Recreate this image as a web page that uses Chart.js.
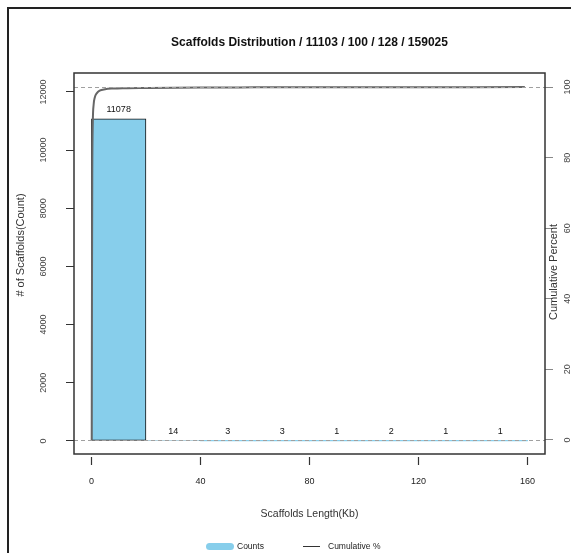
<!DOCTYPE html>
<html><head><meta charset="utf-8">
<script src="https://cdn.jsdelivr.net/npm/chart.js@4"></script>
<style>html,body{margin:0;padding:0;background:#fff;overflow:hidden}</style>
</head><body>
<canvas id="c" width="571" height="553"></canvas>
<script>
// ---- data ----
const titleText = "Scaffolds Distribution / 11103 / 100 / 128 / 159025";
const binBreaks = [0, 20, 40, 60, 80, 100, 120, 140, 160];
const binCounts = [11078, 14, 3, 3, 1, 2, 1, 1];
const cumLengthKb = [0.1, 0.2, 0.3, 0.5, 0.8, 1.2, 2, 3, 5, 8, 12, 20, 40, 60, 80, 100, 108, 120, 140, 159];
const cumPercent  = [0, 45, 75, 90, 95, 97, 98.3, 99, 99.4, 99.6, 99.7, 99.77, 99.9, 99.93, 99.95, 99.96, 99.97, 99.98, 99.99, 100];
const xTickValues = [0, 40, 80, 120, 160];
const yTickValues = [0, 2000, 4000, 6000, 8000, 10000, 12000];
const y1TickValues = [0, 20, 40, 60, 80, 100];
const refPercents = [0, 100];
const xTitle = "Scaffolds Length(Kb)";
const yTitle = "# of Scaffolds(Count)";
const y1Title = "Cumulative Percent";
const seriesNames = ["Counts", "Cumulative %"];

// ---- derived tables ----
const barData = binCounts.map((v, i) => ({x: (binBreaks[i] + binBreaks[i + 1]) / 2, y: v}));
const lineData = cumLengthKb.map((v, i) => ({x: v, y: cumPercent[i]}));

const FONT = "'Liberation Sans', Arial, sans-serif";
const BAR_COLOR = '#87CEEB';
const LINE_COLOR = '#666666';

const decor = {
  id: 'decor',
  beforeDraw(chart) {
    const ctx = chart.ctx;
    ctx.save();
    ctx.fillStyle = '#fff';
    ctx.fillRect(0, 0, chart.width, chart.height);
    ctx.strokeStyle = '#222';
    ctx.lineWidth = 2;
    ctx.strokeRect(8, 8, chart.width + 40, chart.height + 40);
    ctx.restore();
  },
  afterDatasetsDraw(chart) {
    const {ctx, chartArea: a, scales} = chart;
    ctx.save();
    ctx.beginPath(); ctx.rect(a.left, a.top, a.width, a.height); ctx.clip();
    ctx.setLineDash([4, 3]);
    ctx.strokeStyle = '#a0a0a0';
    ctx.lineWidth = 1;
    refPercents.forEach(v => {
      const y = Math.round(scales.y1.getPixelForValue(v)) + 0.5;
      ctx.beginPath(); ctx.moveTo(a.left, y); ctx.lineTo(a.right, y); ctx.stroke();
    });
    ctx.restore();
  },
  afterDraw(chart) {
    const {ctx, chartArea: a, scales} = chart;
    ctx.save();
    // plot box
    ctx.strokeStyle = '#333';
    ctx.lineWidth = 1.5;
    ctx.strokeRect(a.left, a.top, a.width, a.height);

    // title
    ctx.fillStyle = '#111';
    ctx.font = "bold 12px " + FONT;
    ctx.textAlign = 'center'; ctx.textBaseline = 'middle';
    ctx.fillText(titleText, (a.left + a.right) / 2, 43);

    // bar value labels
    ctx.font = "9px " + FONT;
    ctx.fillStyle = '#111';
    const meta = chart.getDatasetMeta(0);
    meta.data.forEach((el, i) => {
      ctx.fillText(String(binCounts[i]), el.x, el.y - 9);
    });

    // left tick labels (rotated)
    ctx.fillStyle = '#444';
    ctx.font = "9px " + FONT;
    scales.y.ticks.forEach(t => {
      const y = scales.y.getPixelForValue(t.value);
      ctx.save(); ctx.translate(44, y); ctx.rotate(-Math.PI / 2);
      ctx.fillText(String(t.value), 0, 0); ctx.restore();
    });
    // right tick labels
    scales.y1.ticks.forEach(t => {
      const y = scales.y1.getPixelForValue(t.value);
      ctx.save(); ctx.translate(568, y); ctx.rotate(-Math.PI / 2);
      ctx.fillText(String(t.value), 0, 0); ctx.restore();
    });

    // axis titles
    ctx.fillStyle = '#333';
    ctx.font = "11px " + FONT;
    ctx.save(); ctx.translate(21, 245); ctx.rotate(-Math.PI / 2);
    ctx.fillText(yTitle, 0, 0); ctx.restore();
    ctx.save(); ctx.translate(554, 272); ctx.rotate(-Math.PI / 2);
    ctx.fillText(y1Title, 0, 0); ctx.restore();
    ctx.font = "10.5px " + FONT;
    ctx.fillText(xTitle, (a.left + a.right) / 2, 514);

    // legend
    ctx.fillStyle = BAR_COLOR;
    ctx.beginPath();
    if (ctx.roundRect) ctx.roundRect(206, 543, 28, 7, 3.5); else ctx.rect(206, 543, 28, 7);
    ctx.fill();
    ctx.fillStyle = '#222';
    ctx.font = "8.5px " + FONT;
    ctx.textAlign = 'left';
    ctx.fillText(seriesNames[0], 237, 547);
    ctx.strokeStyle = '#333'; ctx.lineWidth = 1;
    ctx.beginPath(); ctx.moveTo(303, 546.5); ctx.lineTo(320, 546.5); ctx.stroke();
    ctx.fillText(seriesNames[1], 328, 547);
    ctx.restore();
  }
};

new Chart(document.getElementById('c'), {
  data: {
    datasets: [
      {
        type: 'bar', label: seriesNames[0], data: barData, xAxisID: 'x', yAxisID: 'y',
        backgroundColor: BAR_COLOR, borderColor: '#111',
        borderWidth: (c) => (c.raw && c.raw.y >= 10 ? 1 : 0),
        borderSkipped: false, barPercentage: 1, categoryPercentage: 1, order: 2
      },
      {
        type: 'line', label: seriesNames[1], data: lineData, xAxisID: 'x', yAxisID: 'y1',
        borderColor: LINE_COLOR, borderWidth: 2, pointRadius: 0, fill: false,
        cubicInterpolationMode: 'monotone', order: 1
      }
    ]
  },
  options: {
    responsive: false, animation: false, devicePixelRatio: 1,
    layout: {padding: {top: 73, left: 0, right: 0, bottom: 0}},
    plugins: {legend: {display: false}, title: {display: false}, tooltip: {enabled: false}},
    scales: {
      x: {
        type: 'linear', position: 'bottom', min: -6.4, max: 166.4, offset: false,
        afterBuildTicks: (s) => { s.ticks = xTickValues.map(v => ({value: v})); },
        afterFit: (s) => { s.height = 99; },
        grid: {offset: false, drawOnChartArea: false, drawTicks: true, tickLength: 11, tickColor: '#333', tickWidth: 1.2, tickBorderDash: [0, 3, 8, 50]},
        border: {display: false},
        ticks: {color: '#222', font: {size: 9, family: FONT}, padding: 11, maxRotation: 0, autoSkip: false}
      },
      y: {
        type: 'linear', position: 'left', min: -450, max: 12650,
        afterBuildTicks: (s) => { s.ticks = yTickValues.map(v => ({value: v})); },
        afterFit: (s) => { s.width = 74; },
        grid: {drawOnChartArea: false, drawTicks: true, tickLength: 8, tickColor: '#333'},
        border: {display: false},
        ticks: {display: false}
      },
      y1: {
        type: 'linear', position: 'right', min: -4, max: 104,
        afterBuildTicks: (s) => { s.ticks = y1TickValues.map(v => ({value: v})); },
        afterFit: (s) => { s.width = 26; },
        grid: {drawOnChartArea: false, drawTicks: true, tickLength: 8, tickColor: '#888'},
        border: {display: false},
        ticks: {display: false}
      }
    }
  },
  plugins: [decor]
});
</script>
</body></html>
